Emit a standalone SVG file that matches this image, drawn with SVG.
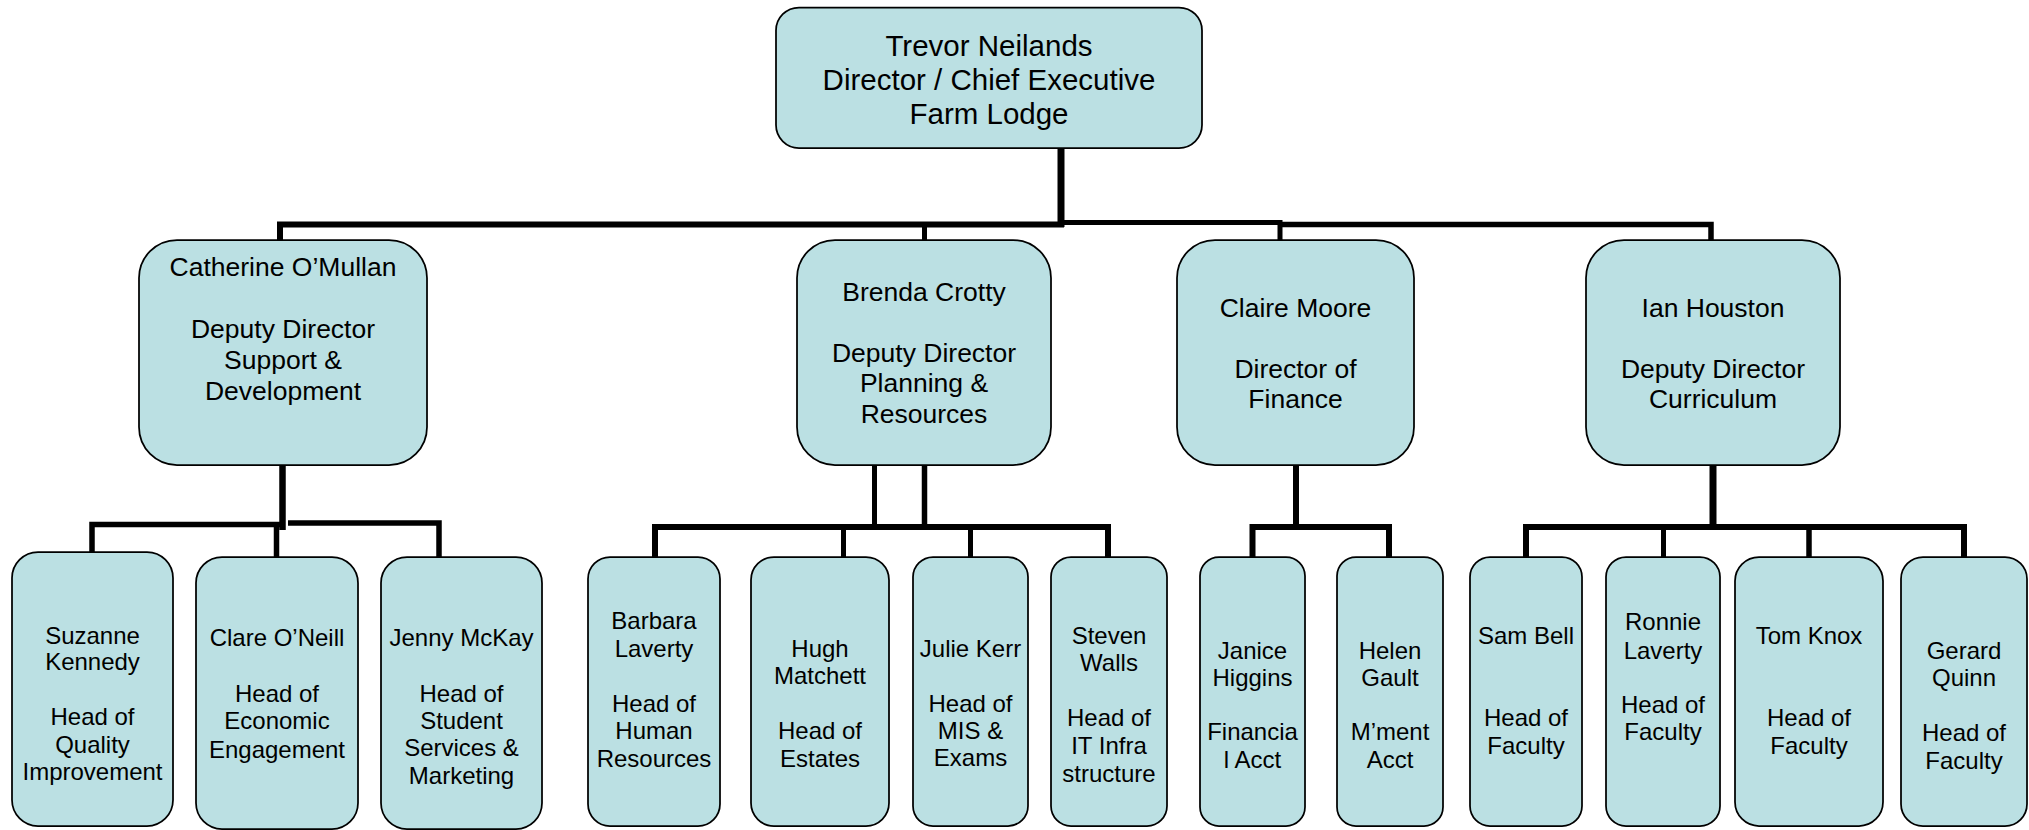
<svg xmlns="http://www.w3.org/2000/svg" width="2029" height="830" viewBox="0 0 2029 830">
<style>
.box{fill:#BBE0E3;stroke:#000;stroke-width:1.75}
text{font-family:"Liberation Sans",Arial,sans-serif;fill:#000;text-anchor:middle;transform:translateY(-1.3px)}
.t1{font-size:29.5px}
.t2{font-size:26.5px}
.t3{font-size:24px}
.c{fill:none;stroke:#000;stroke-linejoin:miter;stroke-linecap:butt}
</style>
<rect width="2029" height="830" fill="#fff"/>
<g id="connectors">
<path class="c" stroke-width="7" d="M1061,148 V227"/>
<path class="c" stroke-width="6" d="M280,240 V224.5 H1064"/>
<path class="c" stroke-width="5" d="M1058,222.5 H1280 V240"/>
<path class="c" stroke-width="5.5" d="M1280,224.5 H1711 V240"/>
<path class="c" stroke-width="5" d="M924.5,224 V240"/>
<path class="c" stroke-width="6.5" d="M282.5,465 V530"/>
<path class="c" stroke-width="5.5" d="M92,552 V524.5 H282"/>
<path class="c" stroke-width="5.5" d="M276.5,557 V524"/>
<path class="c" stroke-width="5.5" d="M288,523 H439 V557"/>
<path class="c" stroke-width="5" d="M874.5,465 V528"/>
<path class="c" stroke-width="5.5" d="M924.5,465 V528"/>
<path class="c" stroke-width="6" d="M655,557 V527 H1108 V557"/>
<path class="c" stroke-width="5" d="M843.5,527 V557"/>
<path class="c" stroke-width="5" d="M970.5,527 V557"/>
<path class="c" stroke-width="6" d="M1296,465 V527"/>
<path class="c" stroke-width="6" d="M1252.5,557 V527 H1389 V557"/>
<path class="c" stroke-width="7" d="M1713,465 V527"/>
<path class="c" stroke-width="6" d="M1526,557 V527 H1964 V557"/>
<path class="c" stroke-width="5" d="M1663.5,527 V557"/>
<path class="c" stroke-width="5.5" d="M1809,527 V557"/>
</g>
<g id="n-trevor">
<rect class="box" x="776" y="7.5" width="426" height="140.5" rx="23"/>
<text class="t1"><tspan x="989" y="57">Trevor Neilands</tspan><tspan x="989" y="91">Director / Chief Executive</tspan><tspan x="989" y="125">Farm Lodge</tspan></text>
</g>
<g id="n-catherine">
<rect class="box" x="139" y="240" width="288" height="225" rx="38"/>
<text class="t2"><tspan x="283" y="277.5">Catherine O’Mullan</tspan><tspan x="283" y="339">Deputy Director</tspan><tspan x="283" y="370">Support &amp;</tspan><tspan x="283" y="401">Development</tspan></text>
</g>
<g id="n-brenda">
<rect class="box" x="797" y="240" width="254" height="225" rx="38"/>
<text class="t2"><tspan x="924" y="302">Brenda Crotty</tspan><tspan x="924" y="363">Deputy Director</tspan><tspan x="924" y="393.5">Planning &amp;</tspan><tspan x="924" y="424.5">Resources</tspan></text>
</g>
<g id="n-claire">
<rect class="box" x="1177" y="240" width="237" height="225" rx="38"/>
<text class="t2"><tspan x="1295.5" y="318">Claire Moore</tspan><tspan x="1295.5" y="379">Director of</tspan><tspan x="1295.5" y="409">Finance</tspan></text>
</g>
<g id="n-ian">
<rect class="box" x="1586" y="240" width="254" height="225" rx="38"/>
<text class="t2"><tspan x="1713" y="318">Ian Houston</tspan><tspan x="1713" y="379">Deputy Director</tspan><tspan x="1713" y="409">Curriculum</tspan></text>
</g>
<g id="n-suzanne">
<rect class="box" x="12" y="552" width="161" height="274" rx="26"/>
<text class="t3"><tspan x="92.5" y="645">Suzanne</tspan><tspan x="92.5" y="671">Kennedy</tspan><tspan x="92.5" y="726">Head of</tspan><tspan x="92.5" y="754">Quality</tspan><tspan x="92.5" y="781">Improvement</tspan></text>
</g>
<g id="n-clare">
<rect class="box" x="196" y="557" width="162" height="272" rx="26"/>
<text class="t3"><tspan x="277" y="647.5">Clare O’Neill</tspan><tspan x="277" y="703.5">Head of</tspan><tspan x="277" y="730.5">Economic</tspan><tspan x="277" y="759">Engagement</tspan></text>
</g>
<g id="n-jenny">
<rect class="box" x="381" y="557" width="161" height="272" rx="26"/>
<text class="t3"><tspan x="461.5" y="647.5">Jenny McKay</tspan><tspan x="461.5" y="703.5">Head of</tspan><tspan x="461.5" y="730.5">Student</tspan><tspan x="461.5" y="757.5">Services &amp;</tspan><tspan x="461.5" y="785">Marketing</tspan></text>
</g>
<g id="n-barbara">
<rect class="box" x="588" y="557" width="132" height="269" rx="22"/>
<text class="t3"><tspan x="654" y="630.5">Barbara</tspan><tspan x="654" y="658.5">Laverty</tspan><tspan x="654" y="713.5">Head of</tspan><tspan x="654" y="740.5">Human</tspan><tspan x="654" y="768.5">Resources</tspan></text>
</g>
<g id="n-hugh">
<rect class="box" x="751" y="557" width="138" height="269" rx="23"/>
<text class="t3"><tspan x="820" y="658.5">Hugh</tspan><tspan x="820" y="685.5">Matchett</tspan><tspan x="820" y="740.5">Head of</tspan><tspan x="820" y="768.5">Estates</tspan></text>
</g>
<g id="n-julie">
<rect class="box" x="913" y="557" width="115" height="269" rx="20"/>
<text class="t3"><tspan x="970.5" y="658.5">Julie Kerr</tspan><tspan x="970.5" y="713.5">Head of</tspan><tspan x="970.5" y="740.5">MIS &amp;</tspan><tspan x="970.5" y="767">Exams</tspan></text>
</g>
<g id="n-steven">
<rect class="box" x="1051" y="557" width="116" height="269" rx="20"/>
<text class="t3"><tspan x="1109" y="645.5">Steven</tspan><tspan x="1109" y="672.5">Walls</tspan><tspan x="1109" y="727">Head of</tspan><tspan x="1109" y="755.5">IT Infra</tspan><tspan x="1109" y="783">structure</tspan></text>
</g>
<g id="n-janice">
<rect class="box" x="1200" y="557" width="105" height="269" rx="19"/>
<text class="t3"><tspan x="1252.5" y="660">Janice</tspan><tspan x="1252.5" y="687">Higgins</tspan><tspan x="1252.5" y="741">Financia</tspan><tspan x="1252.5" y="769">l Acct</tspan></text>
</g>
<g id="n-helen">
<rect class="box" x="1337" y="557" width="106" height="269" rx="19"/>
<text class="t3"><tspan x="1390" y="660">Helen</tspan><tspan x="1390" y="687">Gault</tspan><tspan x="1390" y="741">M’ment</tspan><tspan x="1390" y="769">Acct</tspan></text>
</g>
<g id="n-sam">
<rect class="box" x="1470" y="557" width="112" height="269" rx="20"/>
<text class="t3"><tspan x="1526" y="645.5">Sam Bell</tspan><tspan x="1526" y="727">Head of</tspan><tspan x="1526" y="755.5">Faculty</tspan></text>
</g>
<g id="n-ronnie">
<rect class="box" x="1606" y="557" width="114" height="269" rx="20"/>
<text class="t3"><tspan x="1663" y="631">Ronnie</tspan><tspan x="1663" y="660">Laverty</tspan><tspan x="1663" y="714">Head of</tspan><tspan x="1663" y="741.5">Faculty</tspan></text>
</g>
<g id="n-tom">
<rect class="box" x="1735" y="557" width="148" height="269" rx="24"/>
<text class="t3"><tspan x="1809" y="645.5">Tom Knox</tspan><tspan x="1809" y="727">Head of</tspan><tspan x="1809" y="755.5">Faculty</tspan></text>
</g>
<g id="n-gerard">
<rect class="box" x="1901" y="557" width="126" height="269" rx="22"/>
<text class="t3"><tspan x="1964" y="660">Gerard</tspan><tspan x="1964" y="687">Quinn</tspan><tspan x="1964" y="742">Head of</tspan><tspan x="1964" y="770">Faculty</tspan></text>
</g>
</svg>
